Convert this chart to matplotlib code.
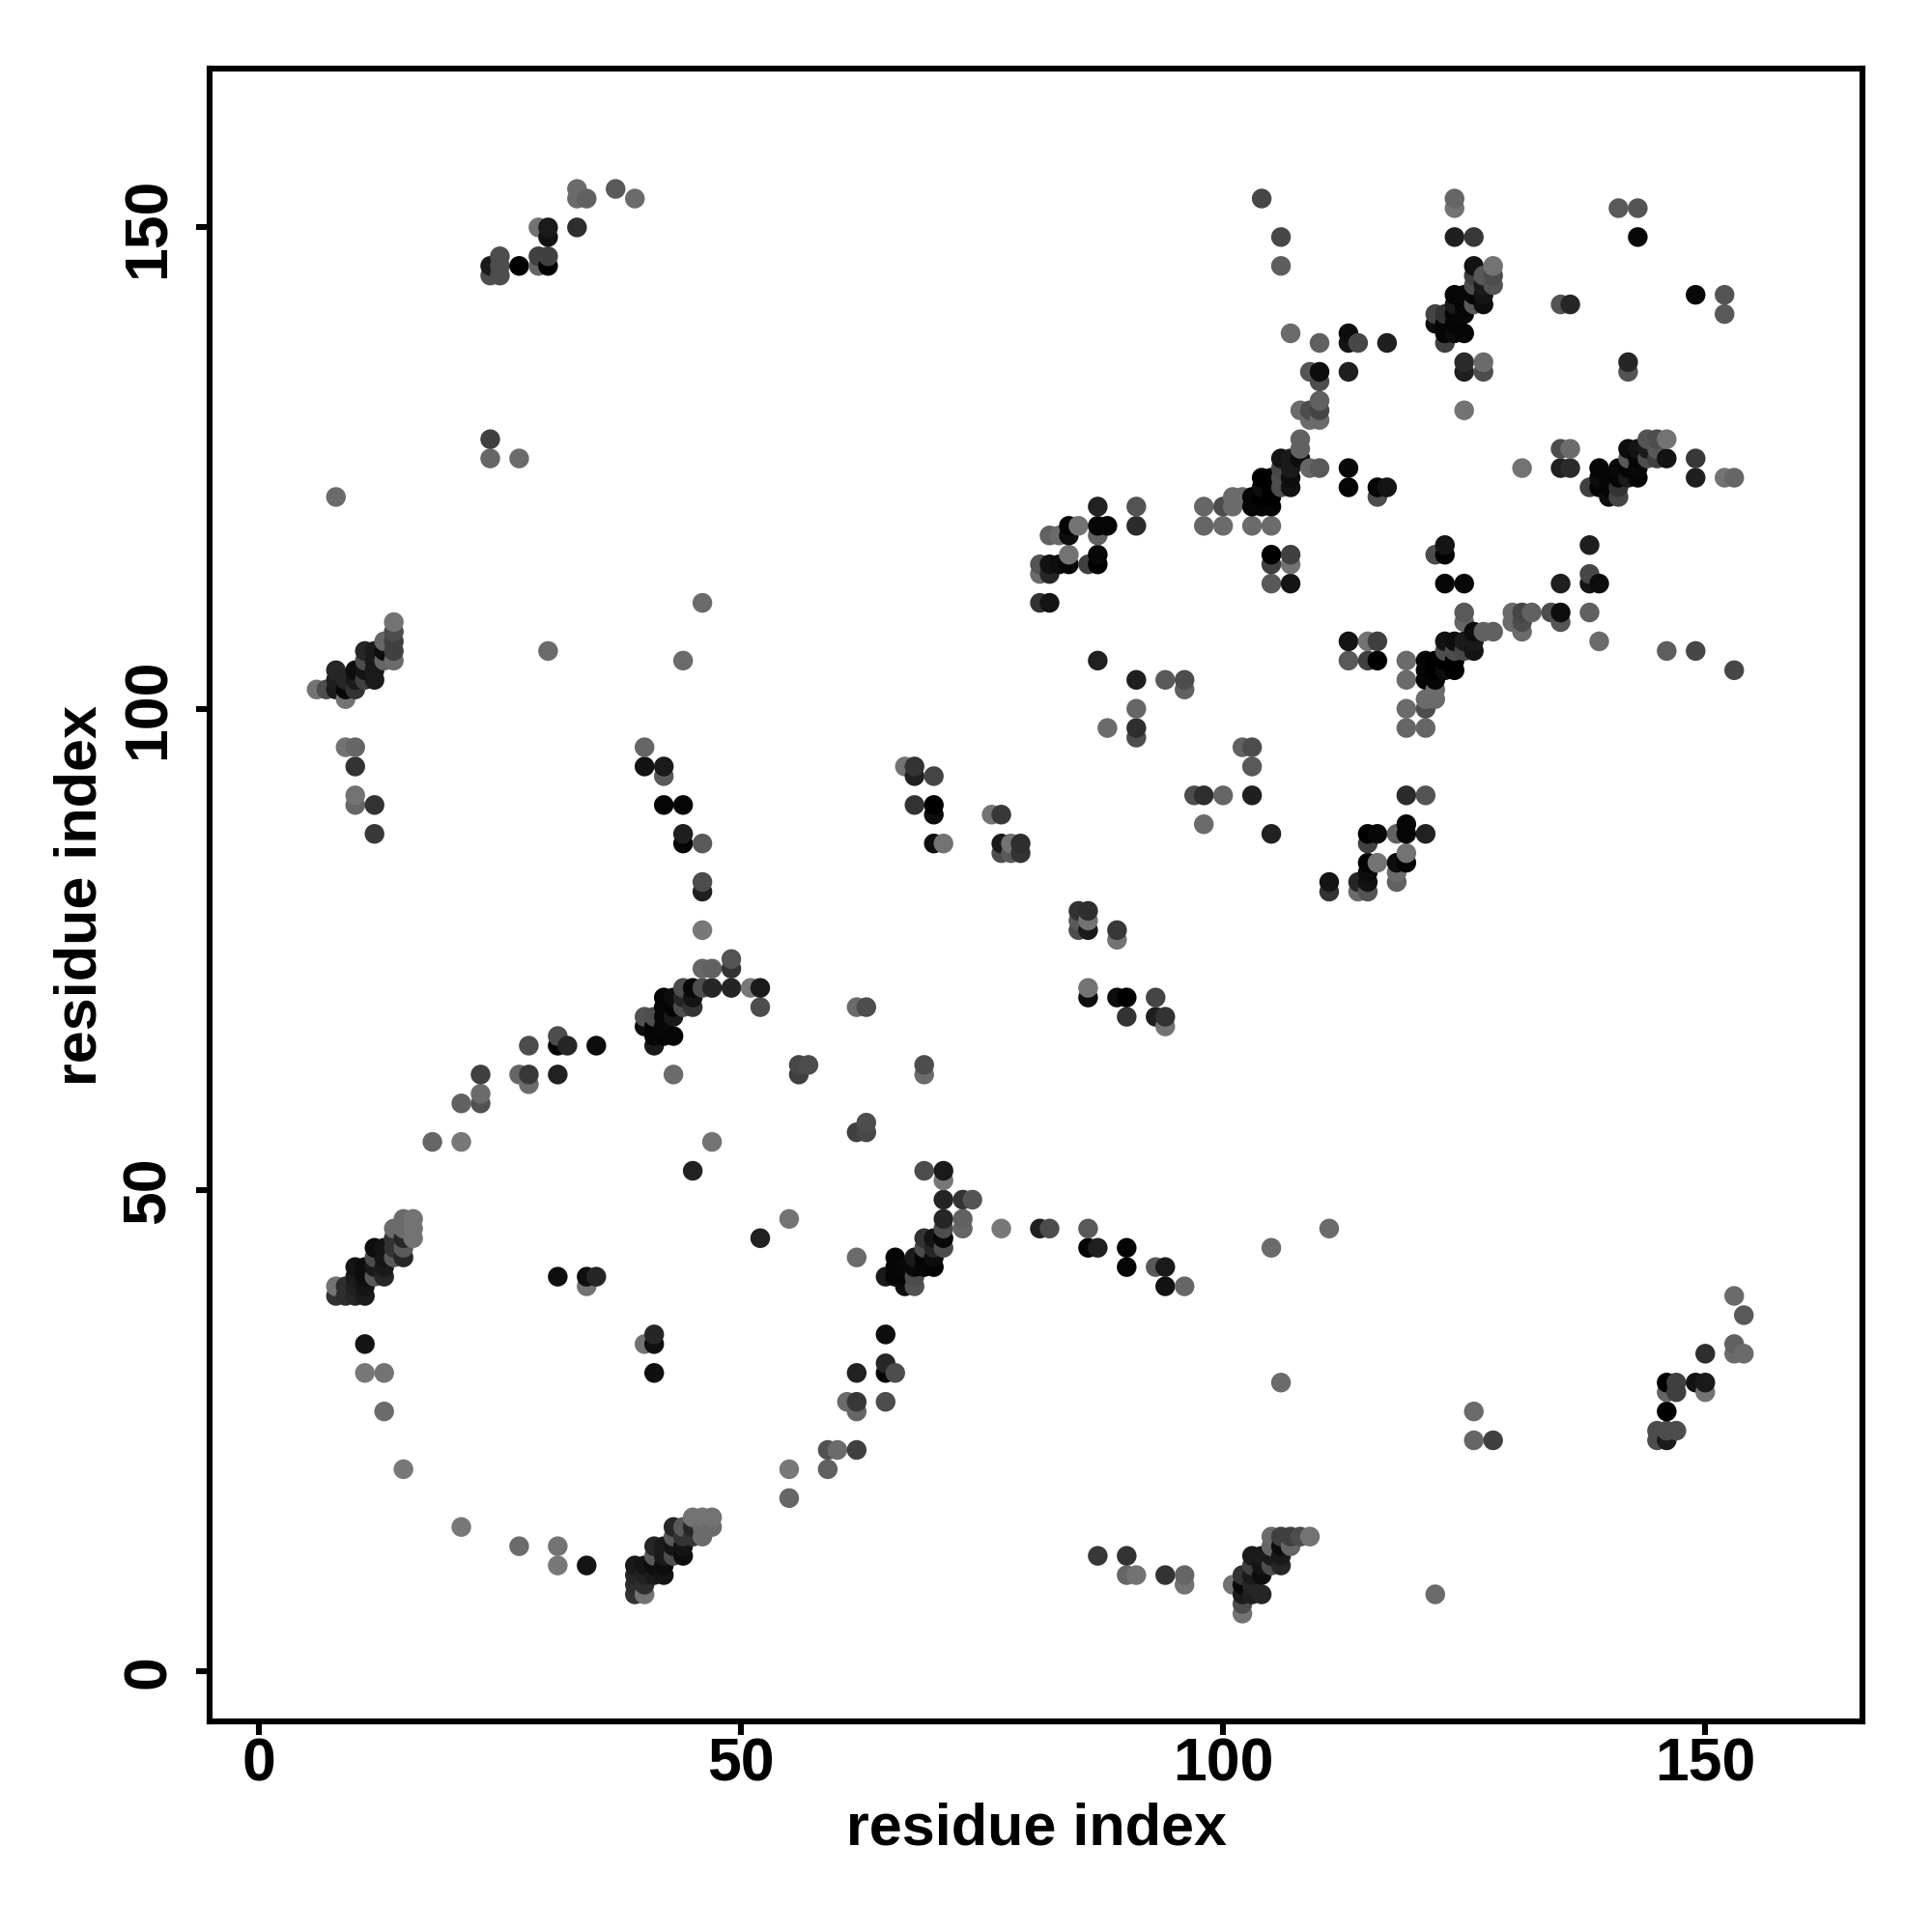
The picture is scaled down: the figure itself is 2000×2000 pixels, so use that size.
import numpy as np
import matplotlib
matplotlib.use("Agg")
import matplotlib.pyplot as plt

plt.rcParams["font.family"] = ["Liberation Sans", "DejaVu Sans"]

# contact map is symmetric, so only residue pairs with i < j are listed
# lower left helix pair
i_a = [8, 9, 10, 11, 8, 9, 10, 11, 10, 11, 12, 13, 10, 11, 12, 13, 12, 13, 14, 15, 12, 13, 14, 15, 14, 15, 16, 14, 15, 16, 15, 16]
j_a = [39, 39, 39, 39, 40, 40, 40, 40, 41, 41, 41, 41, 42, 42, 42, 42, 43, 43, 43, 43, 44, 44, 44, 44, 45, 45, 45, 46, 46, 46, 47, 47]
g_a = [.2, .18, .15, .1, .45, .18, .13, .08, .1, .05, .35, .15, .08, .05, .1, .1, .3, .08, .35, .15, .05, .08, .2, .35, .2, .15, .45, .42, .42, .45, .42, .45]

i_b = [6, 7, 8, 9, 9, 8, 8, 9, 10, 10, 10, 11, 11, 11, 11, 12, 12, 12, 12, 13, 13, 13, 14, 14, 14, 14, 14]
j_b = [102, 102, 102, 101, 102, 104, 103, 103, 104, 103, 102, 106, 105, 104, 103, 106, 105, 104, 103, 107, 106, 105, 109, 108, 107, 106, 105]
g_b = [.45, .3, .1, .45, .03, .15, .12, .15, .05, .1, .2, .15, .3, .08, .25, .1, .1, .1, .1, .4, .05, .4, .45, .3, .25, .25, .42]

# scattered contacts on the left
i_c = [8, 9, 10, 10, 10, 10, 12, 12, 11, 11, 13, 13, 15, 31, 34, 35, 34]
j_c = [122, 96, 96, 94, 91, 90, 90, 87, 34, 31, 31, 27, 21, 41, 41, 41, 40]
g_c = [.42, .45, .4, .2, .45, .4, .2, .22, .08, .47, .45, .42, .47, .06, .06, .15, .45]

i_d = [18, 21, 21, 23, 23, 23, 27, 28, 28, 28, 31, 31, 31, 32, 35, 24, 24, 27, 30]
j_d = [55, 55, 59, 59, 60, 62, 62, 62, 61, 65, 62, 65, 66, 65, 65, 128, 126, 126, 106]
g_d = [.4, .47, .38, .32, .42, .25, .4, .22, .42, .3, .13, .02, .3, .15, .05, .25, .4, .42, .42]

i_e = [24, 24, 25, 25, 25, 27, 29, 29, 30, 30, 29, 30, 30, 33, 33, 33, 34, 37, 39]
j_e = [146, 145, 147, 146, 145, 146, 147, 146, 147, 146, 150, 150, 149, 150, 154, 153, 153, 154, 153]
g_e = [.1, .3, .3, .3, .3, 0, .25, .4, .25, 0, .45, .1, .07, .18, .42, .42, .38, .35, .42]

i_f = [40, 40, 41, 41, 41, 41, 42, 42, 42, 42, 42, 43, 43, 43, 43, 44, 44, 44, 45, 45, 45, 46, 46, 47, 47, 49, 49, 49, 51, 52, 52]
j_f = [67, 68, 65, 66, 67, 68, 66, 67, 68, 69, 70, 66, 68, 69, 70, 69, 70, 71, 69, 70, 71, 71, 73, 71, 73, 71, 73, 74, 71, 71, 69]
g_f = [.05, .32, .1, .02, .02, .3, .02, .03, .03, .03, .02, .02, .1, .02, .05, .3, .15, .3, .2, .08, .03, .3, .4, .15, .38, .14, .2, .33, .47, .1, .3]

i_g = [40, 40, 42, 42, 42, 44, 44, 44, 46, 46, 46, 46, 46, 44, 45, 47, 43, 56, 56, 57, 62, 63]
j_g = [96, 94, 94, 93, 90, 90, 87, 86, 86, 82, 81, 77, 111, 105, 52, 55, 62, 62, 63, 63, 69, 69]
g_g = [.4, .07, .1, .35, .02, .02, .12, .02, .35, .3, .12, .47, .42, .42, .13, .45, .42, .25, .28, .3, .42, .3]

i_h = [67, 68, 68, 70, 68, 70, 70, 70, 71, 76, 77, 77, 77, 78, 78, 79, 79]
j_h = [94, 94, 93, 93, 90, 90, 89, 86, 86, 89, 89, 86, 85, 86, 85, 86, 85]
g_h = [.45, .2, .12, .27, .2, 0, .05, .05, .45, .45, .22, .1, .3, .45, .35, .18, .2]

i_j = [87, 91, 94, 96, 96, 91, 91, 91, 88]
j_j = [105, 103, 103, 103, 102, 100, 98, 97, 98]
g_j = [.13, .12, .35, .3, .38, .4, .18, .3, .42]

i_k = [87, 91, 84, 85, 87, 88, 91, 82, 83, 84, 87, 84, 87, 81, 82, 83, 84, 86, 87, 81, 82, 81, 82]
j_k = [121, 121, 119, 119, 119, 119, 119, 118, 118, 118, 118, 116, 116, 115, 115, 115, 115, 115, 115, 114, 114, 111, 111]
g_k = [.13, .33, .02, .45, .02, .02, .17, .38, .42, .05, .38, .45, .03, .33, .07, .05, .02, .25, 0, .42, .15, .2, .08]

i_l = [98, 100, 101, 102, 101, 98, 100, 103, 105, 105, 107, 105, 107, 105, 107]
j_l = [121, 121, 122, 122, 121, 119, 119, 119, 119, 116, 116, 115, 115, 113, 113]
g_l = [.4, .3, .42, .42, .42, .4, .42, .42, .42, 0, .25, .25, .45, .35, .08]

i_m = [103, 103, 104, 104, 104, 104, 105, 105, 105, 105, 106, 106, 106, 106, 107, 107, 107, 107, 108, 108, 108, 109, 110, 113, 113, 116, 117, 116]
j_m = [121, 122, 121, 122, 123, 124, 121, 122, 123, 124, 123, 124, 125, 126, 123, 124, 125, 126, 126, 127, 128, 125, 125, 125, 123, 123, 123, 122]
g_m = [.02, .02, .02, 0, .05, 0, .02, 0, 0, 0, .3, .3, .28, .08, .07, .05, .1, .1, .05, .38, .38, .4, .35, .03, .02, .02, .08, .3]

i_n = [104, 106, 106, 107, 110, 113, 113, 114, 117, 109, 110, 110, 113, 110, 110, 109, 108, 109, 110]
j_n = [153, 149, 146, 139, 138, 139, 138, 138, 138, 135, 135, 134, 135, 132, 131, 131, 131, 130, 130]
g_n = [.28, .28, .37, .42, .38, .05, .08, .28, .12, .33, .05, .3, .12, .38, .27, .3, .42, .42, .42]

# upper right helix pair and neighbours
i_p = [126, 128, 126, 127, 128, 126, 127, 128, 124, 125, 126, 127, 124, 125, 126, 127, 122, 123, 124, 125, 122, 123, 124, 123, 124, 125, 123]
j_p = [146, 146, 145, 145, 145, 144, 144, 144, 143, 143, 143, 143, 142, 142, 142, 142, 141, 141, 141, 141, 140, 140, 140, 139, 139, 139, 138]
g_p = [.07, .45, .25, .35, .3, .3, .1, .33, .02, .03, .02, .08, .1, .02, .35, .05, .27, .2, .02, .03, .05, .02, .02, .02, .05, .02, .25]

i_q = [124, 124, 124, 126, 141, 143, 143, 135, 136, 125, 127, 125, 127, 125]
j_q = [153, 152, 149, 149, 152, 152, 149, 142, 142, 136, 136, 135, 135, 131]
g_q = [.4, .45, .12, .22, .35, .33, .03, .33, .15, .17, .42, .12, .3, .45]

res_i = np.array(i_a + i_b + i_c + i_d + i_e + i_f + i_g + i_h + i_j + i_k + i_l + i_m + i_n + i_p + i_q)
res_j = np.array(j_a + j_b + j_c + j_d + j_e + j_f + j_g + j_h + j_j + j_k + j_l + j_m + j_n + j_p + j_q)
shade = np.array(g_a + g_b + g_c + g_d + g_e + g_f + g_g + g_h + g_j + g_k + g_l + g_m + g_n + g_p + g_q)

x = np.concatenate([res_i, res_j])
y = np.concatenate([res_j, res_i])
g = np.concatenate([shade, shade])

# later residues get drawn on top
order = np.lexsort((y, x))
x, y, g = x[order], y[order], g[order]

fig = plt.figure(figsize=(10, 10), dpi=200)
ax = fig.add_axes([217 / 2000, 1 - 1782 / 2000, (1928 - 217) / 2000, (1782 - 71) / 2000])

ax.scatter(x, y, s=54, c=np.column_stack([g, g, g]), linewidths=0, zorder=3)

ax.set_xlim(-5.1, 166.3)
ax.set_ylim(-5.2, 166.5)

for spine in ax.spines.values():
    spine.set_linewidth(2.2)

ticks = [0, 50, 100, 150]
ax.set_xticks(ticks)
ax.set_yticks(ticks)
ax.tick_params(length=5, width=2.2, labelsize=22.5)
ax.tick_params(axis="x", pad=0.5)
ax.tick_params(axis="y", pad=7)
for lab in ax.get_xticklabels():
    lab.set_fontweight("bold")
for lab in ax.get_yticklabels():
    lab.set_fontweight("bold")
    lab.set_rotation(90)
    lab.set_va("center")

ax.set_xlabel("residue index", fontsize=22, fontweight="bold", labelpad=3.5)
ax.set_ylabel("residue index", fontsize=22, fontweight="bold", labelpad=4.5)

fig.savefig("out.png", dpi=200)
